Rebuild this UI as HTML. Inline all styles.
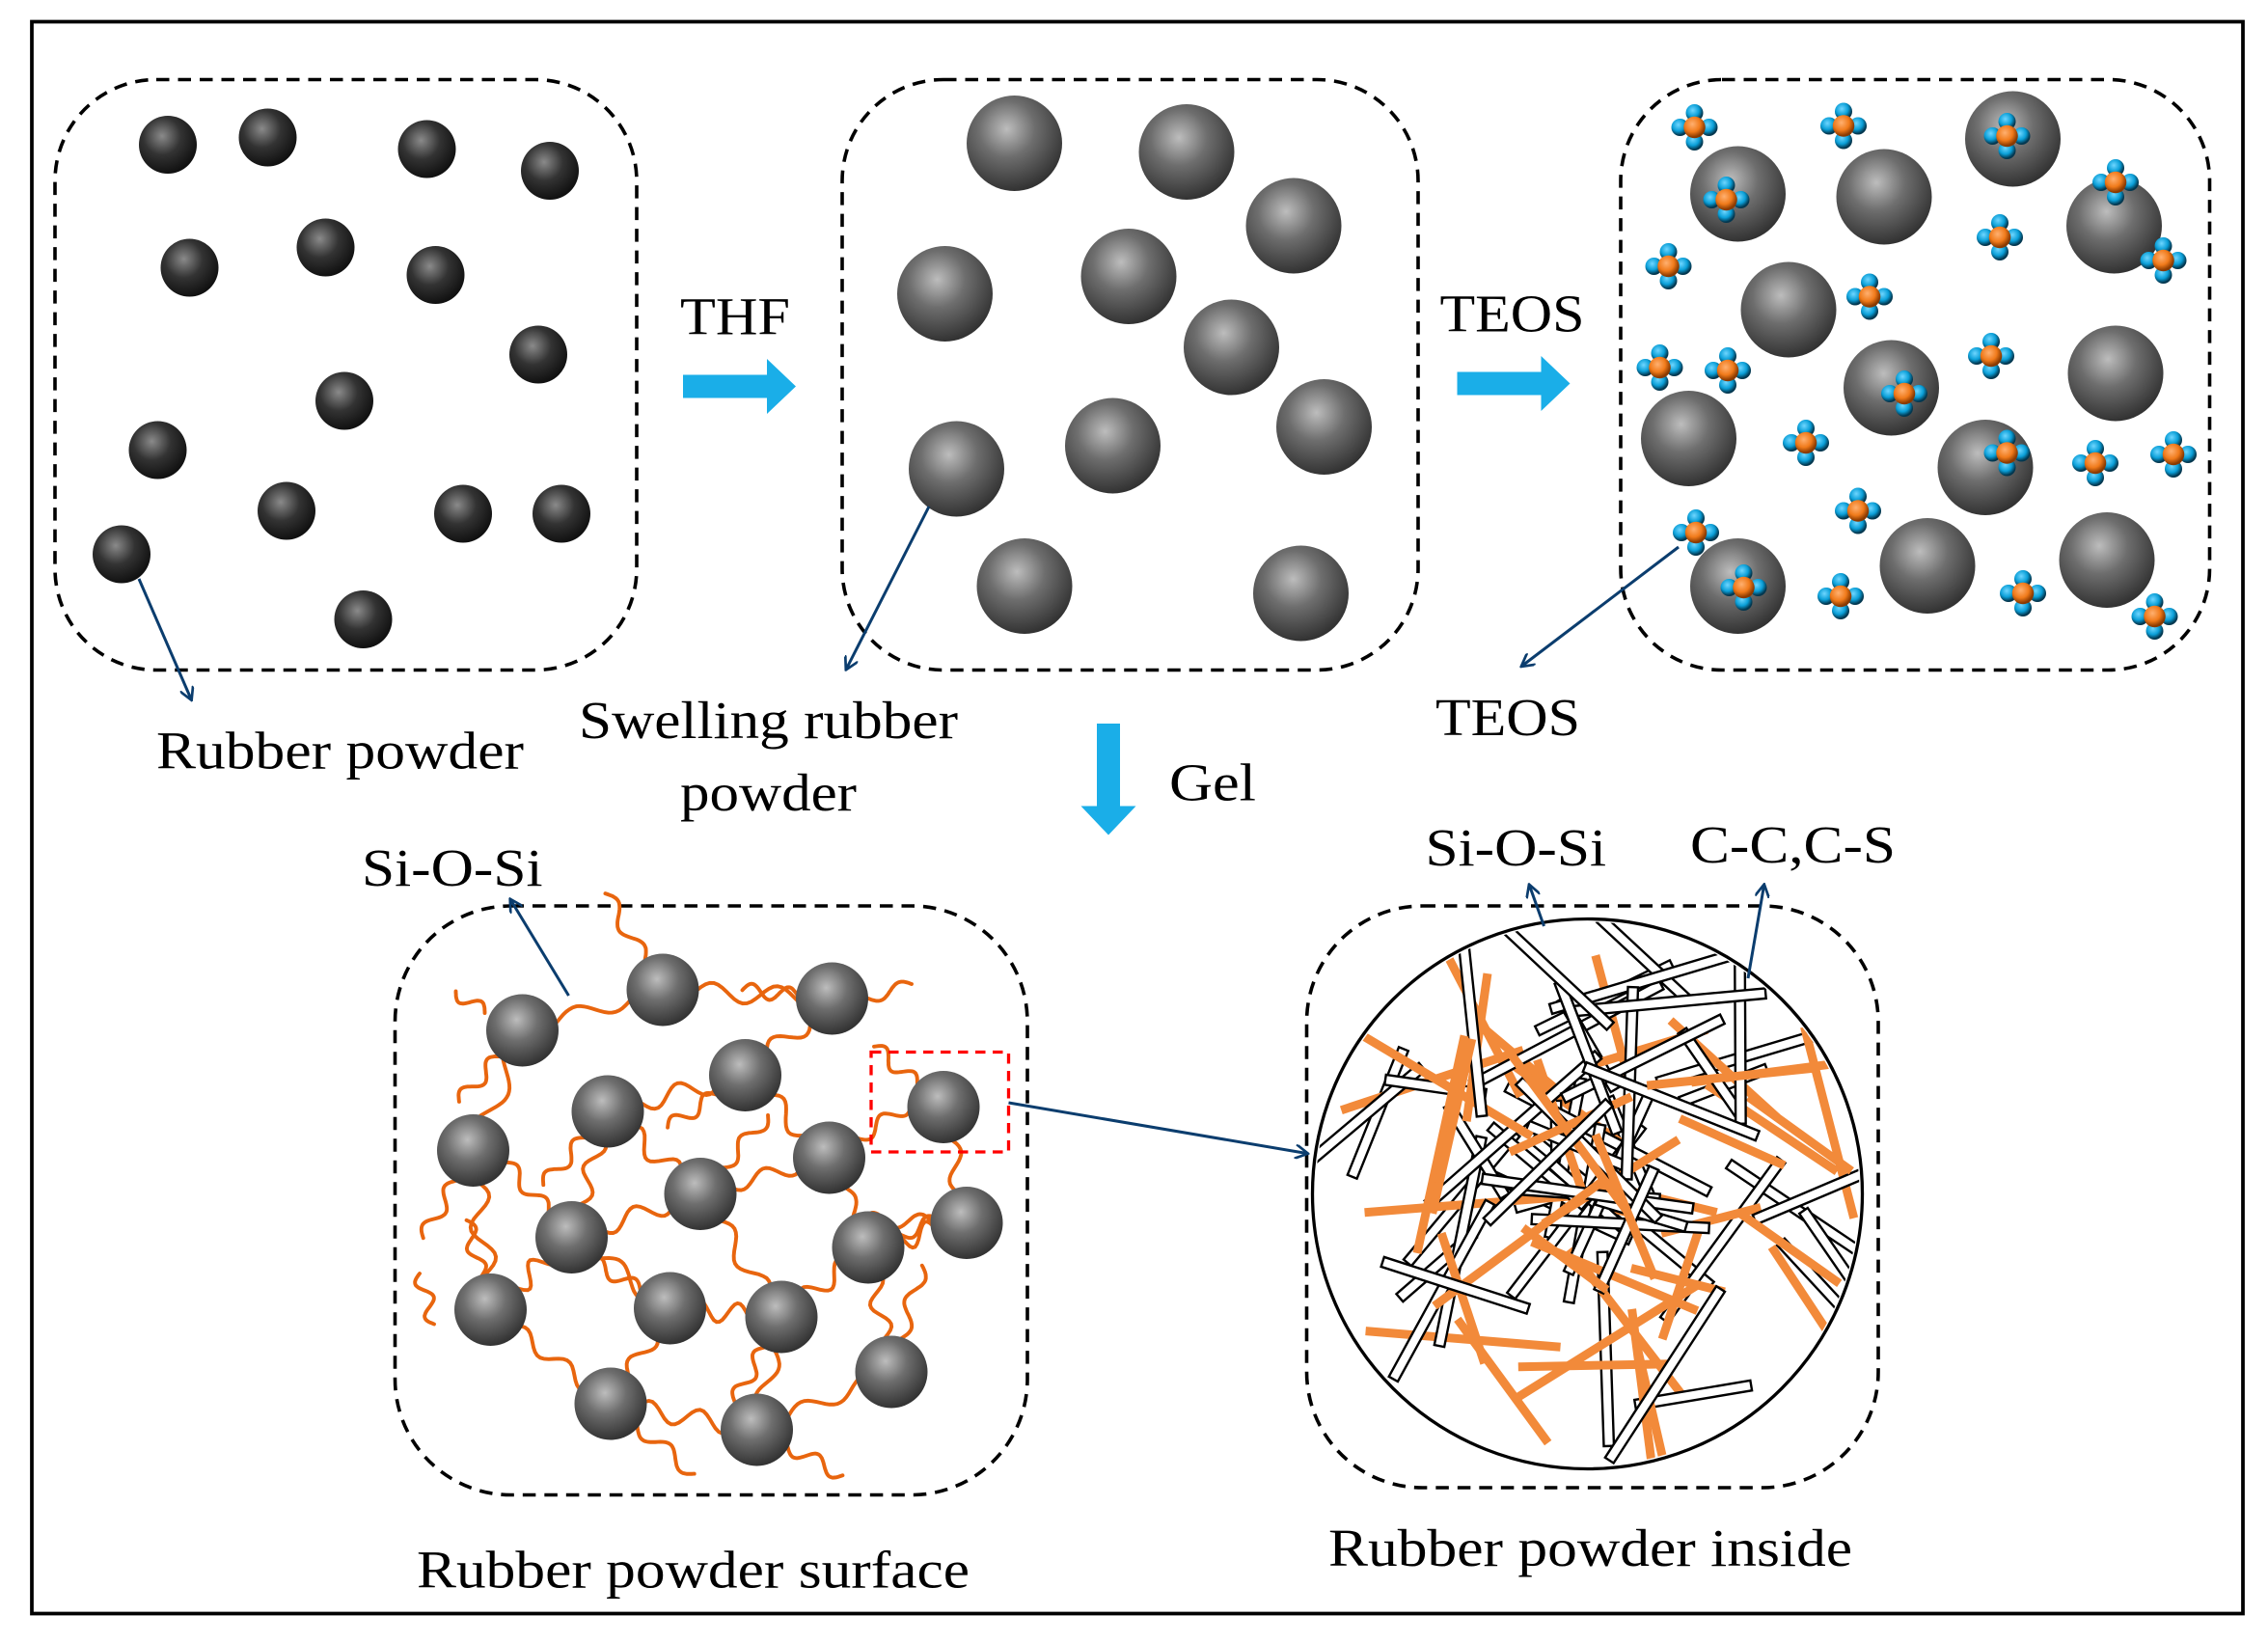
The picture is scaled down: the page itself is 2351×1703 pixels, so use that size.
<!DOCTYPE html>
<html><head><meta charset="utf-8">
<style>
html,body{margin:0;padding:0;background:#fff;}
svg{display:block;}
text{font-family:"Liberation Serif",serif;fill:#000;}
</style></head>
<body>
<svg id="s" width="2351" height="1703" viewBox="0 0 1567.33 1135.33" xmlns="http://www.w3.org/2000/svg">
<defs>
<radialGradient id="g1" cx="0.4" cy="0.35" r="0.65">
<stop offset="0" stop-color="#8a8a8a"/><stop offset="0.5" stop-color="#333"/><stop offset="1" stop-color="#111"/></radialGradient>
<radialGradient id="g2" cx="0.42" cy="0.35" r="0.65">
<stop offset="0" stop-color="#bdbdbd"/><stop offset="0.45" stop-color="#6e6e6e"/><stop offset="1" stop-color="#333"/></radialGradient>
<radialGradient id="gb" cx="0.4" cy="0.35" r="0.6">
<stop offset="0" stop-color="#6fd6ff"/><stop offset="0.6" stop-color="#0a9fd8"/><stop offset="1" stop-color="#03374f"/></radialGradient>
<radialGradient id="go" cx="0.4" cy="0.35" r="0.6">
<stop offset="0" stop-color="#ffb070"/><stop offset="0.6" stop-color="#f07a1a"/><stop offset="1" stop-color="#8a3a00"/></radialGradient>
<marker id="ah" markerWidth="10" markerHeight="10" refX="8" refY="5" orient="auto" markerUnits="userSpaceOnUse">
<path d="M0,0 L9,5 L0,10" fill="none" stroke="#0b3d6e" stroke-width="1.8"/></marker>
<clipPath id="cc"><circle cx="1097" cy="825" r="188"/></clipPath>
</defs>
<rect x="22" y="15" width="1528" height="1100" fill="none" stroke="#000" stroke-width="2.5"/>
<g fill="none" stroke="#000" stroke-width="2.4" stroke-dasharray="9,6">
<rect x="38" y="55" width="402" height="408" rx="70"/>
<rect x="582" y="55" width="398" height="408" rx="70"/>
<rect x="1120" y="55" width="407" height="408" rx="70"/>
<rect x="273" y="626" width="437" height="407" rx="80"/>
<rect x="903" y="626" width="395" height="402" rx="80"/>
</g>
<g id="spheres"></g>
<g id="fib" fill="none" stroke="#e8650e" stroke-width="2.6" stroke-linecap="round"></g>
<g id="sp4"></g>
<g id="teos"></g>
<circle cx="1097" cy="825" r="190" fill="#fff" stroke="#000" stroke-width="2.2"/>
<g id="rods" clip-path="url(#cc)"></g>
<rect x="602" y="727" width="95" height="69" fill="none" stroke="#f00" stroke-width="2.2" stroke-dasharray="7,5"/>
<g fill="#1aaee8">
<path d="M472,259 H530 V248 L550,267 L530,286 V275 H472 Z"/>
<path d="M1007,257 H1065 V246 L1085,265 L1065,284 V273 H1007 Z"/>
<path d="M758,500 H774 V557 H785 L766,577 L747,557 H758 Z"/>
</g>
<g stroke="#0b3d6e" stroke-width="2" fill="none" marker-end="url(#ah)">
<line x1="96" y1="400" x2="132" y2="483"/>
<line x1="642" y1="350" x2="585" y2="462"/>
<line x1="1160" y1="378" x2="1052" y2="460"/>
<line x1="393" y1="688" x2="353" y2="622"/>
<line x1="1067" y1="640" x2="1057" y2="612"/>
<line x1="1208" y1="676" x2="1219" y2="612"/>
<line x1="697" y1="762" x2="903" y2="797"/>
</g>
<g font-size="37">
<text x="108" y="531" textLength="254" lengthAdjust="spacingAndGlyphs">Rubber powder</text>
<text x="400" y="510" textLength="262" lengthAdjust="spacingAndGlyphs">Swelling rubber</text>
<text x="470" y="560" textLength="122" lengthAdjust="spacingAndGlyphs">powder</text>
<text x="470" y="231" textLength="76" lengthAdjust="spacingAndGlyphs">THF</text>
<text x="995" y="229" textLength="100" lengthAdjust="spacingAndGlyphs">TEOS</text>
<text x="992" y="508" textLength="100" lengthAdjust="spacingAndGlyphs">TEOS</text>
<text x="808" y="553" textLength="60" lengthAdjust="spacingAndGlyphs">Gel</text>
<text x="250" y="612" textLength="125" lengthAdjust="spacingAndGlyphs">Si-O-Si</text>
<text x="985" y="598" textLength="125" lengthAdjust="spacingAndGlyphs">Si-O-Si</text>
<text x="1168" y="596" textLength="142" lengthAdjust="spacingAndGlyphs">C-C,C-S</text>
<text x="288" y="1097" textLength="382" lengthAdjust="spacingAndGlyphs">Rubber powder surface</text>
<text x="918" y="1082" textLength="362" lengthAdjust="spacingAndGlyphs">Rubber powder inside</text>
</g>
</svg>
<script>
var NS="http://www.w3.org/2000/svg";
function el(p,t,a){var e=document.createElementNS(NS,t);for(var k in a)e.setAttribute(k,a[k]);document.getElementById(p).appendChild(e);return e;}
var b1=[[116,100],[185,95],[295,103],[380,118],[131,185],[225,171],[301,190],[372,245],[238,277],[109,311],[198,353],[320,355],[388,355],[84,383],[251,428]];
b1.forEach(function(c){el("spheres","circle",{cx:c[0],cy:c[1],r:20,fill:"url(#g1)"});});
var b2=[[701,99],[820,105],[894,156],[653,203],[780,191],[851,240],[915,295],[661,324],[769,308],[708,405],[899,410],
[1201,134],[1302,136],[1391,96],[1461,156],[1236,214],[1307,268],[1462,258],[1167,303],[1372,323],[1201,405],[1332,391],[1456,387]];
b2.forEach(function(c){el("spheres","circle",{cx:c[0],cy:c[1],r:33,fill:"url(#g2)"});});
var t=[[1171,88],[1274,87],[1387,94],[1193,138],[1462,126],[1153,184],[1382,164],[1495,180],[1292,205],[1147,254],[1194,256],[1376,246],[1316,272],[1248,306],[1387,313],[1448,320],[1502,314],[1284,353],[1172,368],[1205,406],[1272,412],[1398,410],[1489,426]];
t.forEach(function(c){[[0,-10],[10,0],[0,10],[-10,0]].forEach(function(d){el("teos","circle",{cx:c[0]+d[0],cy:c[1]+d[1],r:6,fill:"url(#gb)"});});
el("teos","circle",{cx:c[0],cy:c[1],r:7.5,fill:"url(#go)"});});
var b4=[[361,712],[458,684],[575,690],[515,743],[420,768],[327,795],[652,765],[573,800],[484,825],[395,855],[668,845],[600,862],[339,905],[463,904],[540,910],[616,948],[422,970],[523,988]];
var seed=7;function R(){seed=(seed*16807)%2147483647;return seed/2147483647;}
function wave(x1,y1,x2,y2,n,a){var dx=x2-x1,dy=y2-y1,L=Math.hypot(dx,dy),nx=-dy/L,ny=dx/L,d="";for(var i=0;i<=40;i++){var s=i/40,w=Math.sin(s*Math.PI*2*n)*a;d+=(i?"L":"M")+(x1+dx*s+nx*w).toFixed(1)+","+(y1+dy*s+ny*w).toFixed(1);}el("fib","path",{d:d});}
var pairs=[[0,5],[0,1],[1,2],[2,3],[3,4],[4,8],[4,9],[3,7],[7,8],[8,9],[9,12],[9,13],[13,14],[14,11],[11,10],[10,6],[11,15],[14,17],[13,16],[16,17],[5,12],[7,11],[8,14],[17,15],[12,16]];
pairs.forEach(function(p){var a=b4[p[0]],b=b4[p[1]];wave(a[0],a[1],b[0],b[1],1.5+R()*1.5,5+R()*3);});
b4.forEach(function(c){var ang=R()*Math.PI*2,L=35+R()*20;wave(c[0]+Math.cos(ang)*24,c[1]+Math.sin(ang)*24,c[0]+Math.cos(ang)*(24+L),c[1]+Math.sin(ang)*(24+L),1.5,5);});
wave(290,880,300,915,1.5,5);wave(315,685,335,700,1,5);wave(600,690,630,680,1,4);
b4.forEach(function(c){el("sp4","circle",{cx:c[0],cy:c[1],r:25,fill:"url(#g2)"});});
for(var i=0;i<95;i++){var r=R()*175,a=R()*Math.PI*2,cx=1097+Math.cos(a)*r,cy=825+Math.sin(a)*r,L=60+R()*100,an=R()*180;
var orange=R()<0.45;var g=el("rods","g",{transform:"translate("+cx.toFixed(1)+","+cy.toFixed(1)+") rotate("+an.toFixed(1)+")"});
var e=document.createElementNS(NS,"rect");e.setAttribute("x",-L/2);e.setAttribute("y",-3.5);e.setAttribute("width",L);e.setAttribute("height",7);
if(orange){e.setAttribute("fill","#f28a3a");e.setAttribute("height",6);}else{e.setAttribute("fill","#fff");e.setAttribute("stroke","#000");e.setAttribute("stroke-width","1.6");}
g.appendChild(e);}
</script>
</body></html>
